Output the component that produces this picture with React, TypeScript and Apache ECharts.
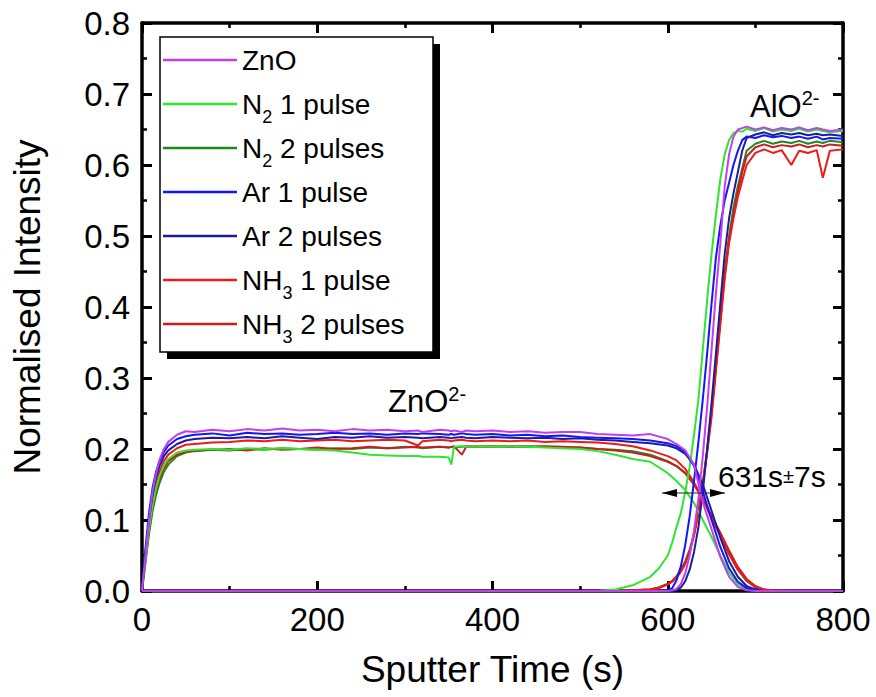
import React, { useEffect, useRef } from "react";
import * as echarts from "echarts";

// ---------- data ----------
const NAMES = ["ZnO", "N2 1 pulse", "N2 2 pulses", "Ar 1 pulse", "Ar 2 pulses", "NH3 1 pulse", "NH3 2 pulses"];
const LEGEND_LABELS: Record<string, string> = {
  "ZnO": "ZnO",
  "N2 1 pulse": "N{sub|2} 1 pulse",
  "N2 2 pulses": "N{sub|2} 2 pulses",
  "Ar 1 pulse": "Ar 1 pulse",
  "Ar 2 pulses": "Ar 2 pulses",
  "NH3 1 pulse": "NH{sub|3} 1 pulse",
  "NH3 2 pulses": "NH{sub|3} 2 pulses",
};
const COLORS: Record<string, string> = {
  "ZnO": "#c040f0",
  "N2 1 pulse": "#2ee62e",
  "N2 2 pulses": "#1e8a1e",
  "Ar 1 pulse": "#1414ff",
  "Ar 2 pulses": "#1c1c9c",
  "NH3 1 pulse": "#f01818",
  "NH3 2 pulses": "#c81e1e",
};
const DRAW_ORDER = ["N2 2 pulses", "NH3 2 pulses", "NH3 1 pulse", "N2 1 pulse", "Ar 2 pulses", "Ar 1 pulse", "ZnO"];

// ZnO2- profile (time, s)
const T_ZNO2 = [0, 4, 8, 12, 16, 20, 25, 30, 40, 50, 60, 80, 100, 120, 140, 160, 180, 200, 220, 240, 260, 280, 300, 315, 320, 340, 350, 353, 356, 365, 370, 380, 400, 420, 440, 460, 480, 500, 520, 540, 560, 580, 600, 610, 620, 630, 640, 650, 660, 670, 680, 690, 700, 710, 720, 740, 770, 800];

const ZNO_ZNO2 = [0, 0.05, 0.1, 0.14, 0.165, 0.185, 0.2, 0.21, 0.22, 0.225,
  0.224, 0.227, 0.225, 0.228, 0.226, 0.229, 0.226, 0.227, 0.225, 0.228,
  0.226, 0.227, 0.225, 0.226, 0.224, 0.227, 0.226, 0.225, 0.226, 0.224,
  0.226, 0.225, 0.226, 0.224, 0.225, 0.223, 0.224, 0.224, 0.221, 0.22,
  0.219, 0.221, 0.214, 0.207, 0.198, 0.178, 0.125, 0.087, 0.048, 0.02,
  0.006, 0.001, 0, 0, 0, 0, 0, 0];
const AR1_ZNO2 = [0, 0.06, 0.11, 0.145, 0.168, 0.183, 0.196, 0.205, 0.214, 0.218,
  0.22, 0.222, 0.219, 0.223, 0.221, 0.222, 0.22, 0.221, 0.223, 0.221,
  0.222, 0.22, 0.222, 0.221, 0.222, 0.221, 0.22, 0.221, 0.22, 0.222,
  0.221, 0.22, 0.221, 0.219, 0.22, 0.218, 0.219, 0.217, 0.216, 0.215,
  0.214, 0.212, 0.208, 0.204, 0.196, 0.176, 0.14, 0.1, 0.062, 0.032,
  0.013, 0.004, 0.001, 0, 0, 0, 0, 0];
const AR2_ZNO2 = [0, 0.055, 0.1, 0.135, 0.16, 0.176, 0.19, 0.198, 0.207, 0.212,
  0.214, 0.216, 0.215, 0.217, 0.215, 0.218, 0.216, 0.214, 0.217, 0.216,
  0.218, 0.216, 0.217, 0.216, 0.215, 0.217, 0.216, 0.215, 0.216, 0.217,
  0.216, 0.215, 0.217, 0.216, 0.215, 0.216, 0.214, 0.215, 0.213, 0.212,
  0.21, 0.208, 0.205, 0.201, 0.193, 0.178, 0.15, 0.113, 0.075, 0.042,
  0.02, 0.007, 0.002, 0, 0, 0, 0, 0];
const NH3_1_ZNO2 = [0, 0.05, 0.095, 0.13, 0.152, 0.168, 0.183, 0.192, 0.201, 0.206,
  0.207, 0.209, 0.21, 0.212, 0.211, 0.213, 0.211, 0.212, 0.213, 0.211,
  0.212, 0.213, 0.212, 0.205, 0.211, 0.213, 0.212, 0.211, 0.212, 0.213,
  0.212, 0.211, 0.212, 0.211, 0.212, 0.21, 0.211, 0.21, 0.209, 0.207,
  0.204, 0.198, 0.19, 0.184, 0.172, 0.153, 0.13, 0.102, 0.078, 0.052,
  0.03, 0.015, 0.006, 0.002, 0.001, 0, 0, 0];
const NH3_2_ZNO2 = [0, 0.045, 0.085, 0.118, 0.142, 0.158, 0.173, 0.183, 0.192, 0.196,
  0.198, 0.199, 0.2, 0.198, 0.201, 0.199, 0.2, 0.202, 0.2, 0.201,
  0.203, 0.201, 0.202, 0.203, 0.202, 0.203, 0.202, 0.203, 0.204, 0.192,
  0.203, 0.204, 0.203, 0.204, 0.203, 0.204, 0.203, 0.202, 0.2, 0.198,
  0.195, 0.19, 0.182, 0.176, 0.166, 0.15, 0.13, 0.106, 0.082, 0.057,
  0.034, 0.017, 0.007, 0.002, 0, 0, 0, 0];
const N2_2_ZNO2 = [0, 0.04, 0.08, 0.112, 0.135, 0.152, 0.168, 0.178, 0.19, 0.195,
  0.197, 0.199, 0.198, 0.2, 0.199, 0.201, 0.2, 0.199, 0.201, 0.2,
  0.202, 0.201, 0.203, 0.202, 0.201, 0.203, 0.202, 0.203, 0.202, 0.203,
  0.204, 0.203, 0.204, 0.203, 0.204, 0.203, 0.202, 0.202, 0.2, 0.199,
  0.197, 0.192, 0.183, 0.176, 0.166, 0.15, 0.13, 0.104, 0.078, 0.052,
  0.03, 0.014, 0.005, 0.001, 0, 0, 0, 0];
const N2_1_ZNO2 = [0, 0.045, 0.088, 0.12, 0.145, 0.162, 0.177, 0.186, 0.195, 0.198,
  0.199, 0.2, 0.199, 0.201, 0.2, 0.201, 0.2, 0.199, 0.198, 0.195,
  0.192, 0.191, 0.19, 0.19, 0.189, 0.189, 0.188, 0.178, 0.203, 0.204,
  0.203, 0.204, 0.203, 0.204, 0.203, 0.202, 0.201, 0.2, 0.197, 0.192,
  0.186, 0.182, 0.166, 0.155, 0.142, 0.124, 0.1, 0.076, 0.05, 0.026,
  0.01, 0.003, 0.001, 0, 0, 0, 0, 0];

// AlO2- profile (time, s)
const T_ALO2 = [0, 520, 540, 560, 580, 590, 600, 605, 610, 615, 620, 625, 630, 635, 640, 645, 650, 655, 660, 665, 670, 675, 680, 685, 690, 700, 710, 720, 730, 741, 750, 760, 770, 777, 785, 800];

const N2_1_ALO2 = [0, 0, 0.002, 0.008, 0.02, 0.032,
  0.05, 0.068, 0.09, 0.11, 0.14, 0.175, 0.22, 0.27, 0.34, 0.41,
  0.475, 0.53, 0.58, 0.615, 0.635, 0.645, 0.648, 0.647, 0.651,
  0.648, 0.652, 0.647, 0.65,
  0.648, 0.651, 0.647, 0.65, 0.648, 0.646, 0.648];
const ZNO_ALO2 = [0, 0, 0, 0, 0, 0,
  0, 0.001, 0.003, 0.01, 0.025, 0.05, 0.085, 0.13, 0.19, 0.26,
  0.34, 0.42, 0.49, 0.57, 0.615, 0.64, 0.65, 0.652, 0.654,
  0.65, 0.653, 0.649, 0.652,
  0.65, 0.653, 0.649, 0.652, 0.65, 0.648, 0.65];
const AR1_ALO2 = [0, 0, 0, 0, 0, 0,
  0.001, 0.004, 0.015, 0.035, 0.065, 0.105, 0.155, 0.21, 0.27, 0.335,
  0.405, 0.47, 0.515, 0.55, 0.575, 0.6, 0.62, 0.635, 0.64,
  0.638, 0.642, 0.639, 0.641,
  0.638, 0.64, 0.637, 0.64, 0.636, 0.638, 0.637];
const AR2_ALO2 = [0, 0, 0, 0, 0, 0,
  0, 0, 0.001, 0.005, 0.014, 0.03, 0.055, 0.09, 0.14, 0.2,
  0.265, 0.335, 0.405, 0.475, 0.525, 0.56, 0.59, 0.62, 0.638,
  0.643, 0.646, 0.642, 0.645,
  0.643, 0.645, 0.642, 0.644, 0.642, 0.643, 0.641];
const N2_2_ALO2 = [0, 0, 0.001, 0.001, 0.002, 0.005,
  0.01, 0.014, 0.021, 0.03, 0.042, 0.058, 0.08, 0.11, 0.15, 0.2,
  0.255, 0.32, 0.385, 0.45, 0.5, 0.54, 0.57, 0.595, 0.62,
  0.63, 0.634, 0.63, 0.633,
  0.631, 0.634, 0.63, 0.633, 0.631, 0.634, 0.632];
const NH3_1_ALO2 = [0, 0, 0, 0.001, 0.002, 0.004,
  0.009, 0.013, 0.019, 0.027, 0.038, 0.055, 0.078, 0.11, 0.15, 0.195,
  0.245, 0.31, 0.375, 0.44, 0.49, 0.525, 0.555, 0.578, 0.6,
  0.617, 0.622, 0.617, 0.621,
  0.6, 0.62, 0.617, 0.621, 0.582, 0.62, 0.622];
const NH3_2_ALO2 = [0, 0, 0, 0.001, 0.002, 0.005,
  0.01, 0.014, 0.02, 0.028, 0.04, 0.057, 0.08, 0.112, 0.152, 0.198,
  0.25, 0.315, 0.38, 0.445, 0.495, 0.53, 0.562, 0.59, 0.612,
  0.625, 0.629, 0.625, 0.628,
  0.626, 0.629, 0.625, 0.628, 0.626, 0.629, 0.627];

const ZNO2_DATA: Record<string, number[]> = {
  "ZnO": ZNO_ZNO2, "N2 1 pulse": N2_1_ZNO2, "N2 2 pulses": N2_2_ZNO2,
  "Ar 1 pulse": AR1_ZNO2, "Ar 2 pulses": AR2_ZNO2, "NH3 1 pulse": NH3_1_ZNO2, "NH3 2 pulses": NH3_2_ZNO2,
};
const ALO2_DATA: Record<string, number[]> = {
  "ZnO": ZNO_ALO2, "N2 1 pulse": N2_1_ALO2, "N2 2 pulses": N2_2_ALO2,
  "Ar 1 pulse": AR1_ALO2, "Ar 2 pulses": AR2_ALO2, "NH3 1 pulse": NH3_1_ALO2, "NH3 2 pulses": NH3_2_ALO2,
};

const X_TICKS = { min: 0, max: 800, interval: 200 };
const Y_TICKS = { min: 0, max: 0.8, interval: 0.1 };

const FONT = "'Liberation Sans', Arial, Helvetica, sans-serif";

export default function App() {
  const ref = useRef<HTMLDivElement>(null);
  useEffect(() => {
    if (!ref.current) return;
    const chart = echarts.init(ref.current, undefined, { renderer: "svg" });

    const zip = (t: number[], v: number[]) => t.map((x, i) => [x, v[i]]);
    const series: any[] = [];
    DRAW_ORDER.forEach((name) => {
      [zip(T_ZNO2, ZNO2_DATA[name]), zip(T_ALO2, ALO2_DATA[name])].forEach((data) => {
        series.push({
          type: "line",
          name,
          data,
          symbol: "none",
          showSymbol: false,
          color: COLORS[name],
          lineStyle: { width: 2, color: COLORS[name] },
          xAxisIndex: 0,
          yAxisIndex: 0,
          silent: true,
        });
      });
    });

    const axisCommon = {
      axisLine: { onZero: false, lineStyle: { color: "#000", width: 3.5 } },
      axisTick: { inside: true, length: 10, lineStyle: { color: "#000", width: 3 } },
      minorTick: { show: true, splitNumber: 2, length: 5, lineStyle: { color: "#000", width: 2.5 } },
      splitLine: { show: false },
    };

    chart.setOption({
      animation: false,
      backgroundColor: "#fff",
      grid: { left: 142, right: 33, top: 23, bottom: 106, containLabel: false },
      xAxis: [
        {
          type: "value", position: "bottom", ...X_TICKS, ...axisCommon,
          axisLabel: { fontSize: 33, color: "#000", margin: 12, fontFamily: FONT },
          name: "Sputter Time (s)", nameLocation: "middle", nameGap: 60,
          nameTextStyle: { fontSize: 37, color: "#000", fontFamily: FONT },
        },
        { type: "value", position: "top", ...X_TICKS, ...axisCommon, axisLabel: { show: false } },
      ],
      yAxis: [
        {
          type: "value", position: "left", ...Y_TICKS, ...axisCommon,
          axisLabel: { fontSize: 33, color: "#000", margin: 12, fontFamily: FONT, formatter: (v: number) => v.toFixed(1) },
          name: "Normalised Intensity", nameLocation: "middle", nameGap: 96,
          nameTextStyle: { fontSize: 37, color: "#000", fontFamily: FONT },
        },
        { type: "value", position: "right", ...Y_TICKS, ...axisCommon, axisLabel: { show: false } },
      ],
      legend: {
        data: NAMES,
        orient: "vertical",
        left: 160,
        top: 37,
        padding: [1, 0, 0, 3],
        itemGap: 0,
        icon: "rect",
        itemWidth: 74,
        itemHeight: 2.5,
        z: 10,
        selectedMode: false,
        formatter: (name: string) => LEGEND_LABELS[name] || name,
        textStyle: {
          fontSize: 28,
          lineHeight: 44,
          color: "#000",
          fontFamily: FONT,
          rich: {
            sub: { fontSize: 18, lineHeight: 18, verticalAlign: "bottom", color: "#000", fontFamily: FONT },
          },
        },
      },
      graphic: [
        { type: "rect", z: 1, shape: { x: 167, y: 44, width: 273, height: 315 }, style: { fill: "#000" } },
        { type: "rect", z: 2, shape: { x: 160, y: 37, width: 273, height: 315 }, style: { fill: "#fff", stroke: "#000", lineWidth: 1.5 } },
        {
          type: "text", z: 5, x: 388, y: 401.5,
          style: {
            text: "ZnO{sup|2-}", fontSize: 31, fontFamily: FONT, fill: "#000", lineHeight: 36,
            verticalAlign: "middle", align: "left",
            rich: { sup: { fontSize: 20, lineHeight: 20, verticalAlign: "top", fontFamily: FONT, fill: "#000" } },
          },
        },
        {
          type: "text", z: 5, x: 750, y: 106,
          style: {
            text: "AlO{sup|2-}", fontSize: 31, fontFamily: FONT, fill: "#000", lineHeight: 36,
            verticalAlign: "middle", align: "left",
            rich: { sup: { fontSize: 20, lineHeight: 20, verticalAlign: "top", fontFamily: FONT, fill: "#000" } },
          },
        },
        {
          type: "text", z: 5, x: 718, y: 476,
          style: {
            text: "631s{pm|±}7s", fontSize: 30, fontFamily: FONT, fill: "#000", lineHeight: 34,
            verticalAlign: "middle", align: "left",
            rich: { pm: { fontSize: 20, fontFamily: FONT, fill: "#000" } },
          },
        },
        { type: "line", z: 5, shape: { x1: 662, y1: 493, x2: 725, y2: 493 }, style: { stroke: "#222", lineWidth: 1 } },
        { type: "polygon", z: 5, shape: { points: [[662, 493], [677, 489], [677, 497]] }, style: { fill: "#000" } },
        { type: "polygon", z: 5, shape: { points: [[725, 493], [710, 489], [710, 497]] }, style: { fill: "#000" } },
      ],
      series,
    });

    return () => chart.dispose();
  }, []);

  return <div ref={ref} style={{ position: "fixed", left: 0, top: 0, width: 876, height: 697, background: "#fff" }} />;
}
